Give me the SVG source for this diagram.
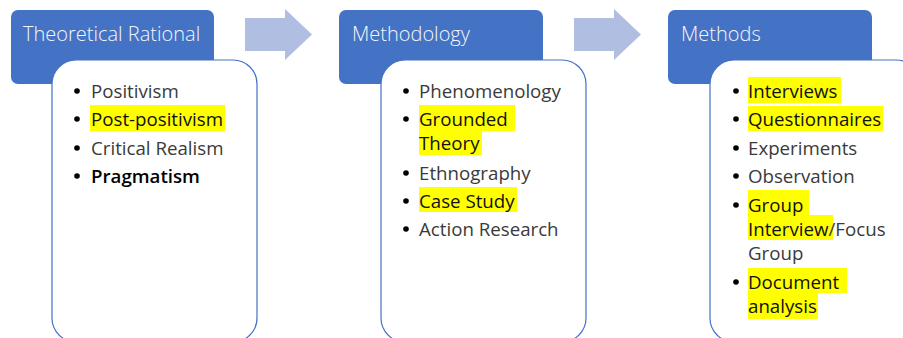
<svg xmlns="http://www.w3.org/2000/svg" width="903" height="338" viewBox="0 0 903 338">
<style>
.hdr{fill:#4472C4}
.body{fill:#FFFFFF;stroke:#4472C4;stroke-width:1.2}
.arrow{fill:#B0BFE1}
.ht{font-family:"Open Sans","Noto Sans",sans-serif;font-size:20px;font-weight:300;fill:#F4F6FB}
.t{font-family:"Open Sans","Noto Sans",sans-serif;font-size:18.7px;fill:#3A3A3A}
.k{fill:#111111}
.b{font-weight:600;fill:#000000}
.hl{fill:#FFFF00}
.dot{fill:#000000}
</style>
<rect width="903" height="338" fill="#FFFFFF"/>
<g id="connectors">
<path class="arrow" d="M245,18 H285 V9 L312,34.5 L285,60 V51 H245 Z"/>
<path class="arrow" d="M574,18 H614 V9 L641,34.5 L614,60 V51 H574 Z"/>
</g>
<g id="node-theory">
<rect class="hdr" x="11" y="10" width="203" height="74" rx="7"/>
<text class="ht" x="23" y="41">Theoretical Rational</text>
<rect class="body" x="52" y="60" width="205" height="282" rx="24"/>
<rect class="hl" x="90" y="105" width="135" height="26"/>
<circle class="dot" cx="77" cy="91" r="2.8"/>
<circle class="dot" cx="77" cy="119" r="2.8"/>
<circle class="dot" cx="77" cy="148" r="2.8"/>
<circle class="dot" cx="77" cy="176" r="2.8"/>
<text class="t" x="91" y="98">Positivism</text>
<text class="t k" x="91" y="126">Post-positivism</text>
<text class="t" x="91" y="155">Critical Realism</text>
<text class="t b" x="91" y="183">Pragmatism</text>
</g>
<g id="node-methodology">
<rect class="hdr" x="339" y="10" width="204" height="74" rx="7"/>
<text class="ht" x="352" y="41">Methodology</text>
<rect class="body" x="381" y="60" width="205" height="282" rx="24"/>
<rect class="hl" x="419" y="105" width="96" height="26"/>
<rect class="hl" x="419" y="131" width="63" height="24"/>
<rect class="hl" x="419" y="187" width="98" height="25"/>
<circle class="dot" cx="406" cy="91" r="2.8"/>
<circle class="dot" cx="406" cy="119" r="2.8"/>
<circle class="dot" cx="406" cy="173" r="2.8"/>
<circle class="dot" cx="406" cy="201" r="2.8"/>
<circle class="dot" cx="406" cy="229" r="2.8"/>
<text class="t" x="419" y="98">Phenomenology</text>
<text class="t k" x="419" y="126">Grounded</text>
<text class="t k" x="419" y="150">Theory</text>
<text class="t" x="419" y="180">Ethnography</text>
<text class="t k" x="419" y="208">Case Study</text>
<text class="t" x="419" y="236">Action Research</text>
</g>
<g id="node-methods">
<rect class="hdr" x="668" y="10" width="204" height="74" rx="7"/>
<text class="ht" x="681" y="41">Methods</text>
<rect class="body" x="710" y="60" width="210" height="282" rx="24"/>
<rect class="hl" x="748" y="77" width="93" height="26"/>
<rect class="hl" x="748" y="106" width="135" height="25"/>
<rect class="hl" x="748" y="190" width="61" height="25"/>
<rect class="hl" x="748" y="215" width="85" height="25"/>
<rect class="hl" x="748" y="268" width="99" height="25"/>
<rect class="hl" x="748" y="293" width="70" height="26"/>
<circle class="dot" cx="736" cy="91" r="2.8"/>
<circle class="dot" cx="736" cy="119" r="2.8"/>
<circle class="dot" cx="736" cy="148" r="2.8"/>
<circle class="dot" cx="736" cy="176" r="2.8"/>
<circle class="dot" cx="736" cy="205" r="2.8"/>
<circle class="dot" cx="736" cy="282" r="2.8"/>
<text class="t k" x="748" y="98">Interviews</text>
<text class="t k" x="748" y="126">Questionnaires</text>
<text class="t" x="748" y="155">Experiments</text>
<text class="t" x="748" y="183">Observation</text>
<text class="t k" x="748" y="212">Group</text>
<text class="t" x="748" y="236"><tspan class="k">Interview</tspan>/Focus</text>
<text class="t" x="748" y="260">Group</text>
<text class="t k" x="748" y="289">Document</text>
<text class="t k" x="748" y="313">analysis</text>
</g>
</svg>
